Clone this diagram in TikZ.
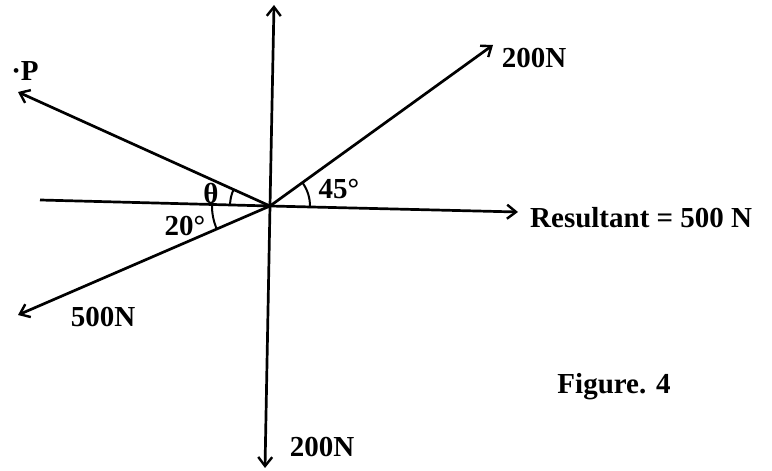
\documentclass[tikz,border=0pt]{standalone}
\usepackage{fontspec}
\setmainfont{Liberation Serif}
\usetikzlibrary{arrows.meta}
\begin{document}
\begin{tikzpicture}[x=1pt,y=1pt,
  force/.style={line width=2.7pt, -{Straight Barb[length=9pt,width=14pt,line width=2.4pt]}},
  axis/.style={line width=2.7pt},
  anglearc/.style={line width=2pt},
  lbl/.style={font=\fontsize{29}{33}\selectfont\bfseries, inner sep=0pt, text=black}]
\useasboundingbox (0,0) rectangle (772,471);
\coordinate (O) at (270,265);
\coordinate (top) at (274,466);
\coordinate (bot) at (265,3);
\coordinate (left) at (40,271);
\coordinate (right) at (518,259);
\coordinate (ptip) at (18,379);
\coordinate (ftip) at (18,156);
\coordinate (gtip) at (493,426);
% lines
\draw[axis] (O) -- (left);
\draw[force] (O) -- (top);
\draw[force] (O) -- (bot);
\draw[force] (O) -- (right);
\draw[force] (O) -- (ptip);
\draw[force] (O) -- (ftip);
\draw[force] (O) -- (gtip);
% angle arcs
\draw[anglearc] ([shift={(178.5:40pt)}]O) arc[start angle=178.5, end angle=155.7, radius=40pt];
\draw[anglearc] ([shift={(178.5:58pt)}]O) arc[start angle=178.5, end angle=203.4, radius=58pt];
\draw[anglearc] ([shift={(-1.4:40pt)}]O) arc[start angle=-1.4, end angle=35.8, radius=40pt];
% labels
\node[lbl] (lp) at (25,400) {·P};
\node[lbl] (lth) at (211,277) {θ};
\node[lbl] (l20) at (185,245) {20°};
\node[lbl] (l45) at (339,282) {45°};
\node[lbl] (lg) at (534,413) {200N};
\node[lbl, anchor=west] (lr) at (530,253) {Resultant = 500 N};
\node[lbl] (lf) at (103,154) {500N};
\node[lbl] (lb) at (322,24) {200N};
\node[lbl] (lfig) at (614,84) {Figure. 4};
\end{tikzpicture}
\end{document}
